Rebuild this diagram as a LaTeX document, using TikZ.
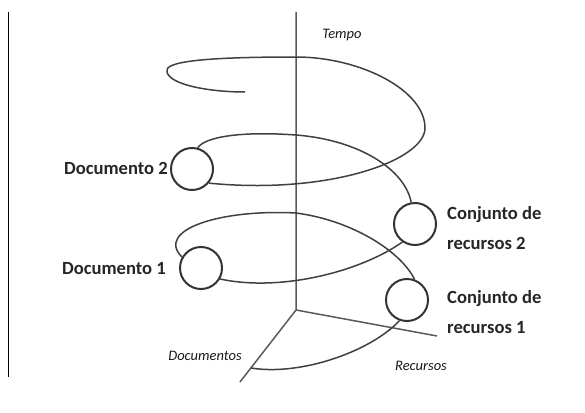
\documentclass[tikz,border=0pt]{standalone}
\usepackage{fontspec}
\setmainfont{Carlito}

\begin{document}
\begin{tikzpicture}[x=1pt, y=-1pt,
    rotulo/.style={font=\fontsize{18.6}{30}\selectfont\bfseries, text=black!85, inner sep=0pt},
    eixorot/.style={font=\fontsize{14.5}{16}\selectfont\itshape, text=black!90, inner sep=0pt},
    bola/.style={circle, draw=black!80, line width=2pt, minimum size=42pt, inner sep=0pt},
    espiral/.style={draw=black!75, line width=1.5pt},
    eixo/.style={draw=black!65, line width=1.5pt}]
    \useasboundingbox (0,0) rectangle (585,412);

    % Borda
    \draw[line width=0.8pt] (8,12) -- (8,377);

    % Eixos
    \coordinate (O) at (296,310);
    \coordinate (T) at (296,12);
    \coordinate (D) at (240,382);
    \coordinate (R) at (437,336);
    \coordinate (ini) at (251,368);
    \coordinate (fim) at (245,92);
    \draw[eixo] (T) -- (O) -- (D);
    \draw[eixo] (O) -- (R);

    % Circulos
    \node[bola] (doc2) at (192,169) {};
    \node[bola] (doc1) at (201,268) {};
    \node[bola] (rec2) at (415,224) {};
    \node[bola] (rec1) at (407,300) {};

    % Espiral
    \draw[espiral] (ini) .. controls (300,376) and (370,352) .. (rec1.250);
    \draw[espiral] (rec1.70) .. controls (400,250) and (350,220) .. (296,213)
        .. controls (220,209) and (155,230) .. (doc1.150);
    \draw[espiral] (doc1.-30) .. controls (280,292) and (360,272) .. (rec2.235);
    \draw[espiral] (rec2.100) .. controls (405,170) and (360,140) .. (296,135)
        .. controls (240,131) and (205,137) .. (doc2.75);
    \draw[espiral] (doc2.-40) .. controls (330,195) and (425,160) .. (425,128)
        .. controls (425,90) and (360,57) .. (296,57)
        .. controls (200,57) and (163,62) .. (167,72)
        .. controls (170,85) and (210,92) .. (fim);

    % Rotulos
    \node[rotulo, anchor=east] (ldoc2) at (168,168) {Documento 2};
    \node[rotulo, anchor=east] (ldoc1) at (166,269) {Documento 1};
    \node[rotulo, anchor=west, align=left] (lrec2) at (447,228) {Conjunto de\\recursos 2};
    \node[rotulo, anchor=west, align=left] (lrec1) at (447,312) {Conjunto de\\recursos 1};

    % Eixos - nomes
    \node[eixorot] (ltempo) at (342,35) {Tempo};
    \node[eixorot] (ldocs) at (205,356) {Documentos};
    \node[eixorot] (lrecs) at (421,366) {Recursos};
\end{tikzpicture}
\end{document}
